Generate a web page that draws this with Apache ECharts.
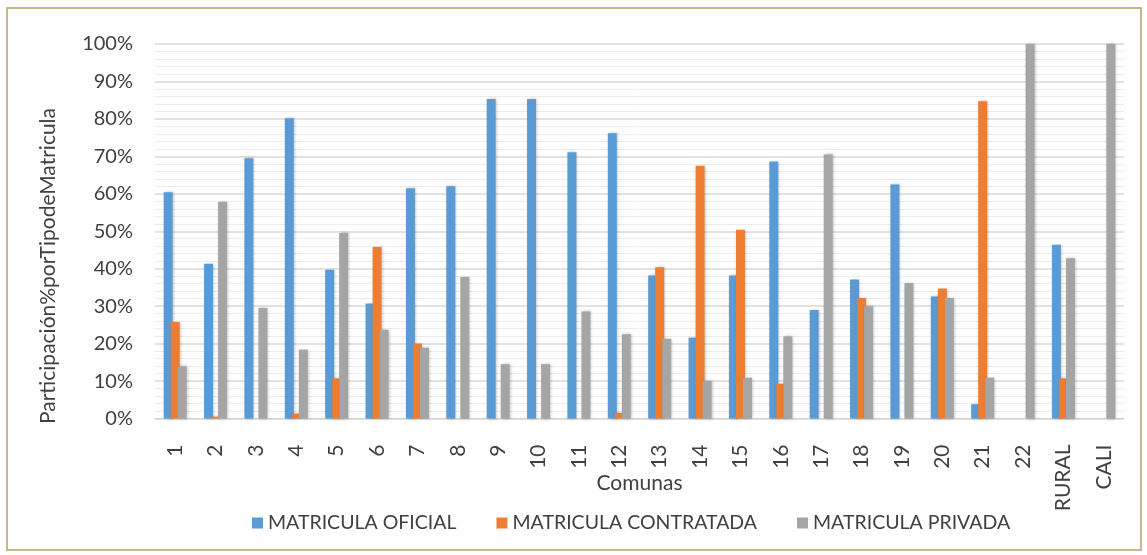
<!DOCTYPE html>
<html>
<head>
<meta charset="utf-8">
<script src="https://cdn.jsdelivr.net/npm/echarts@6/dist/echarts.min.js"></script>
<style>
  html, body { margin: 0; padding: 0; background: #fff; }
  .frame {
    position: absolute; left: 6px; top: 7px; width: 1132px; height: 540px;
    border: 2px solid #cbb68c; box-sizing: content-box;
  }
  #chart { position: absolute; left: 0; top: 0; width: 1147px; height: 555px; }
</style>
</head>
<body>
<div class="frame"></div>
<div id="chart"></div>
<script>
  // categorias (comunas)
  const comunas = ['1','2','3','4','5','6','7','8','9','10','11','12','13','14','15','16','17','18','19','20','21','22','RURAL','CALI'];
  // porcentajes
  const oficial    = [60.4, 41.3, 69.5, 80.2, 39.7, 30.7, 61.5, 62.0, 85.3, 85.3, 71.1, 76.2, 38.2, 21.6, 38.2, 68.6, 29.0, 37.1, 62.5, 32.6, 3.8, 0, 46.4, 0];
  const contratada = [25.8, 0.5, 0, 1.3, 10.7, 45.8, 20.0, 0, 0, 0, 0, 1.5, 40.4, 67.5, 50.4, 9.3, 0, 32.2, 0, 34.7, 84.7, 0, 10.7, 0];
  const privada    = [13.9, 57.9, 29.5, 18.4, 49.5, 23.7, 18.9, 37.8, 14.5, 14.5, 28.6, 22.5, 21.3, 10.0, 10.9, 21.9, 70.5, 30.0, 36.2, 32.2, 10.9, 100, 42.8, 100];
  const nombres = ['MATRICULA OFICIAL', 'MATRICULA CONTRATADA', 'MATRICULA PRIVADA'];

  const fuente = 'Lato, "Liberation Sans", sans-serif';
  const gris = '#404040';
  const chart = echarts.init(document.getElementById('chart'));

  function serie(nombre, datos, color) {
    return {
      name: nombre,
      type: 'bar',
      data: datos,
      barWidth: 9,
      barGap: '-22%',
      itemStyle: { color: color, shadowColor: 'rgba(0,0,0,0.25)', shadowBlur: 3, shadowOffsetX: 1 }
    };
  }

  chart.setOption({
    animation: false,
    textStyle: { fontFamily: fuente },
    grid: { left: 155, right: 23, top: 44, bottom: 136.5 },
    graphic: [{
      type: 'text',
      x: 48,
      y: 266,
      rotation: Math.PI / 2,
      style: {
        text: 'Participación%porTipodeMatricula',
        font: '21px ' + fuente,
        fill: gris,
        textAlign: 'center',
        textVerticalAlign: 'middle'
      }
    }],
    legend: {
      top: 508,
      left: 247,
      itemWidth: 11,
      itemHeight: 11,
      itemGap: 40,
      icon: 'rect',
      textStyle: { fontSize: 19.5, color: gris, fontFamily: fuente },
      data: nombres
    },
    xAxis: {
      type: 'category',
      data: comunas,
      name: 'Comunas',
      nameLocation: 'middle',
      nameGap: 54,
      nameMoveOverlap: false,
      nameTextStyle: { fontSize: 21, color: gris },
      axisLine: { lineStyle: { color: '#d0d0d0' } },
      axisTick: { show: false },
      axisLabel: { rotate: 90, fontSize: 21, color: gris, margin: 26 }
    },
    yAxis: {
      type: 'value',
      min: 0,
      max: 100,
      interval: 10,
      axisLabel: { formatter: '{value}%', fontSize: 20, color: gris, margin: 22 },
      axisLine: { show: false },
      axisTick: { show: false },
      splitLine: { lineStyle: { color: '#d9d9d9', width: 1.5 } },
      minorTick: { show: false, splitNumber: 5 },
      minorSplitLine: { show: true, lineStyle: { color: '#ececec', width: 1 } }
    },
    series: [
      serie(nombres[0], oficial, '#5b9bd5'),
      serie(nombres[1], contratada, '#ed7d31'),
      serie(nombres[2], privada, '#a5a5a5')
    ]
  });
</script>
</body>
</html>
